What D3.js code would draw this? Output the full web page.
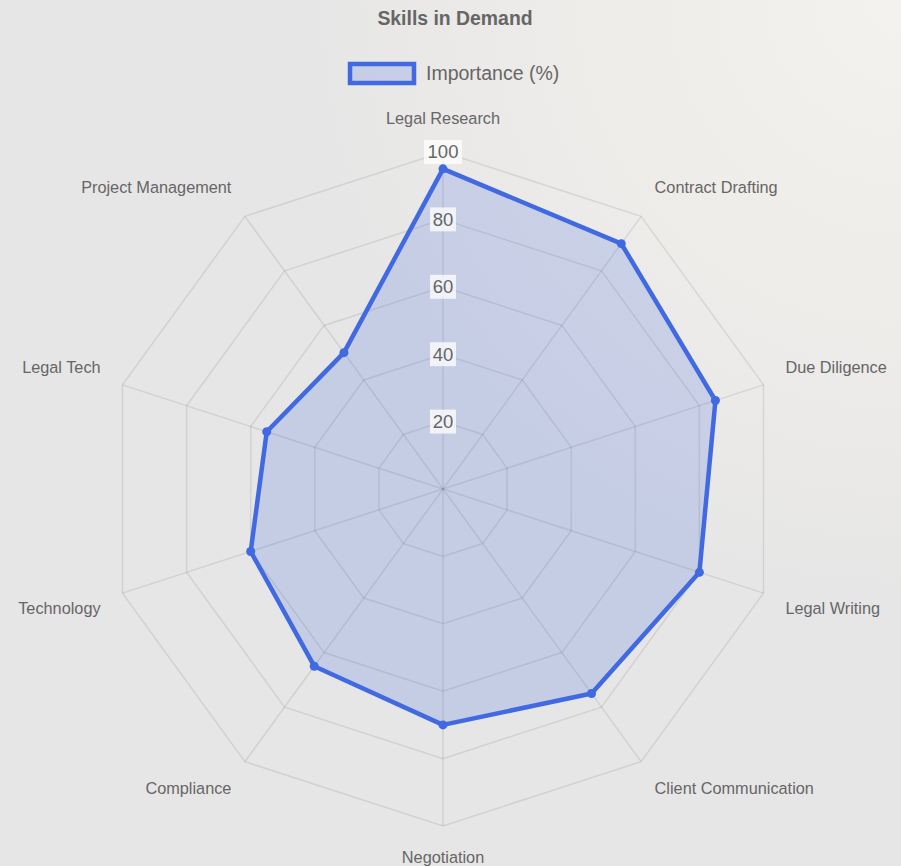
<!DOCTYPE html>
<html>
<head>
<meta charset="utf-8">
<script src="https://cdn.jsdelivr.net/npm/d3@7"></script>
<style>
  html, body { margin: 0; padding: 0; }
  body { width: 901px; height: 866px; overflow: hidden; font-family: "Liberation Sans", Arial, sans-serif; }
</style>
</head>
<body>
<div id="chart"></div>
<script>
//Dimensions
const width = 901;
const height = 866;

//Data
const skills = ["Legal Research", "Contract Drafting", "Due Diligence", "Legal Writing", "Client Communication",
    "Negotiation", "Compliance", "Technology", "Legal Tech", "Project Management"];
const importance = [95, 90, 85, 80, 75, 70, 65, 60, 55, 50];
const tickValues = [20, 40, 60, 80, 100];
const seriesName = "Importance (%)";

//Center and radius of the radar
const cx = 443;
const cy = 489;
const radius = 337;

const svg = d3.select("#chart").append("svg").attr("width", width).attr("height", height);

//Background gradient
const defs = svg.append("defs");
const grad = defs.append("radialGradient").attr("id", "bg")
    .attr("gradientUnits", "userSpaceOnUse")
    .attr("cx", width).attr("cy", 0).attr("r", 620);
grad.append("stop").attr("offset", "0%").attr("stop-color", "#f4f2ef");
grad.append("stop").attr("offset", "45%").attr("stop-color", "#efedea");
grad.append("stop").attr("offset", "100%").attr("stop-color", "#e6e6e6");
svg.append("rect").attr("width", width).attr("height", height).attr("fill", "url(#bg)");

//Scales
const rScale = d3.scaleLinear().domain([0, 100]).range([0, radius]);
const angle = d3.scaleLinear().domain([0, skills.length]).range([0, 2 * Math.PI]);
const pointAt = (i, r) => [cx + r * Math.sin(angle(i)), cy - r * Math.cos(angle(i))];

const g = svg.append("g");

//Grid rings (polygons)
g.selectAll(".ring").data(tickValues).enter().append("polygon")
    .attr("class", "ring")
    .attr("points", v => skills.map((s, i) => pointAt(i, rScale(v)).join(",")).join(" "))
    .attr("fill", "none")
    .attr("stroke", "rgba(0,0,0,0.09)")
    .attr("stroke-width", 1.5);

//Angle lines
g.selectAll(".spoke").data(skills).enter().append("line")
    .attr("class", "spoke")
    .attr("x1", cx).attr("y1", cy)
    .attr("x2", (d, i) => pointAt(i, radius)[0])
    .attr("y2", (d, i) => pointAt(i, radius)[1])
    .attr("stroke", "rgba(0,0,0,0.09)")
    .attr("stroke-width", 1.5);

//Data area
const line = d3.lineRadial()
    .angle((d, i) => angle(i))
    .radius(d => rScale(d))
    .curve(d3.curveLinearClosed);

g.append("path")
    .datum(importance)
    .attr("transform", `translate(${cx},${cy})`)
    .attr("d", line)
    .attr("fill", "rgba(65,105,225,0.2)")
    .attr("stroke", "#4169e1")
    .attr("stroke-width", 4.5)
    .attr("stroke-linejoin", "round");

//Points
g.selectAll(".pt").data(importance).enter().append("circle")
    .attr("class", "pt")
    .attr("cx", (d, i) => pointAt(i, rScale(d))[0])
    .attr("cy", (d, i) => pointAt(i, rScale(d))[1])
    .attr("r", 4.5)
    .attr("fill", "#4169e1");

//Tick labels with backdrop
const ticks = g.selectAll(".tick").data(tickValues).enter().append("g")
    .attr("class", "tick")
    .attr("transform", d => `translate(${cx},${cy - rScale(d)})`);
ticks.append("rect")
    .attr("x", d => d >= 100 ? -19 : -13)
    .attr("y", -12)
    .attr("width", d => d >= 100 ? 38 : 26)
    .attr("height", 24)
    .attr("fill", "rgba(255,255,255,0.75)");
ticks.append("text")
    .attr("text-anchor", "middle")
    .attr("dy", "0.35em")
    .style("font-size", "18.5px")
    .attr("fill", "#666")
    .text(d => d);

//Point labels
const labelDist = 360;
g.selectAll(".plabel").data(skills).enter().append("text")
    .attr("class", "plabel")
    .attr("x", (d, i) => pointAt(i, labelDist)[0])
    .attr("y", (d, i) => pointAt(i, labelDist)[1])
    .attr("text-anchor", (d, i) => {
        const s = Math.sin(angle(i));
        return s > 0.01 ? "start" : s < -0.01 ? "end" : "middle";
    })
    .attr("dy", (d, i) => Math.cos(angle(i)) > 0 ? "-0.3em" : "0.85em")
    .style("font-size", "16.3px")
    .attr("fill", "#666")
    .text(d => d);

//Title
svg.append("text")
    .attr("x", 455).attr("y", 25)
    .attr("text-anchor", "middle")
    .style("font-size", "19.4px").style("font-weight", "bold")
    .attr("fill", "#666")
    .text("Skills in Demand");

//Legend
const legend = svg.append("g").attr("transform", "translate(350,64)");
legend.append("rect")
    .attr("width", 64).attr("height", 19)
    .attr("fill", "rgba(65,105,225,0.2)")
    .attr("stroke", "#4169e1")
    .attr("stroke-width", 4.5);
legend.append("text")
    .attr("x", 76).attr("y", 9.5).attr("dy", "0.35em")
    .style("font-size", "19.5px")
    .attr("fill", "#666")
    .text(seriesName);
</script>
</body>
</html>
